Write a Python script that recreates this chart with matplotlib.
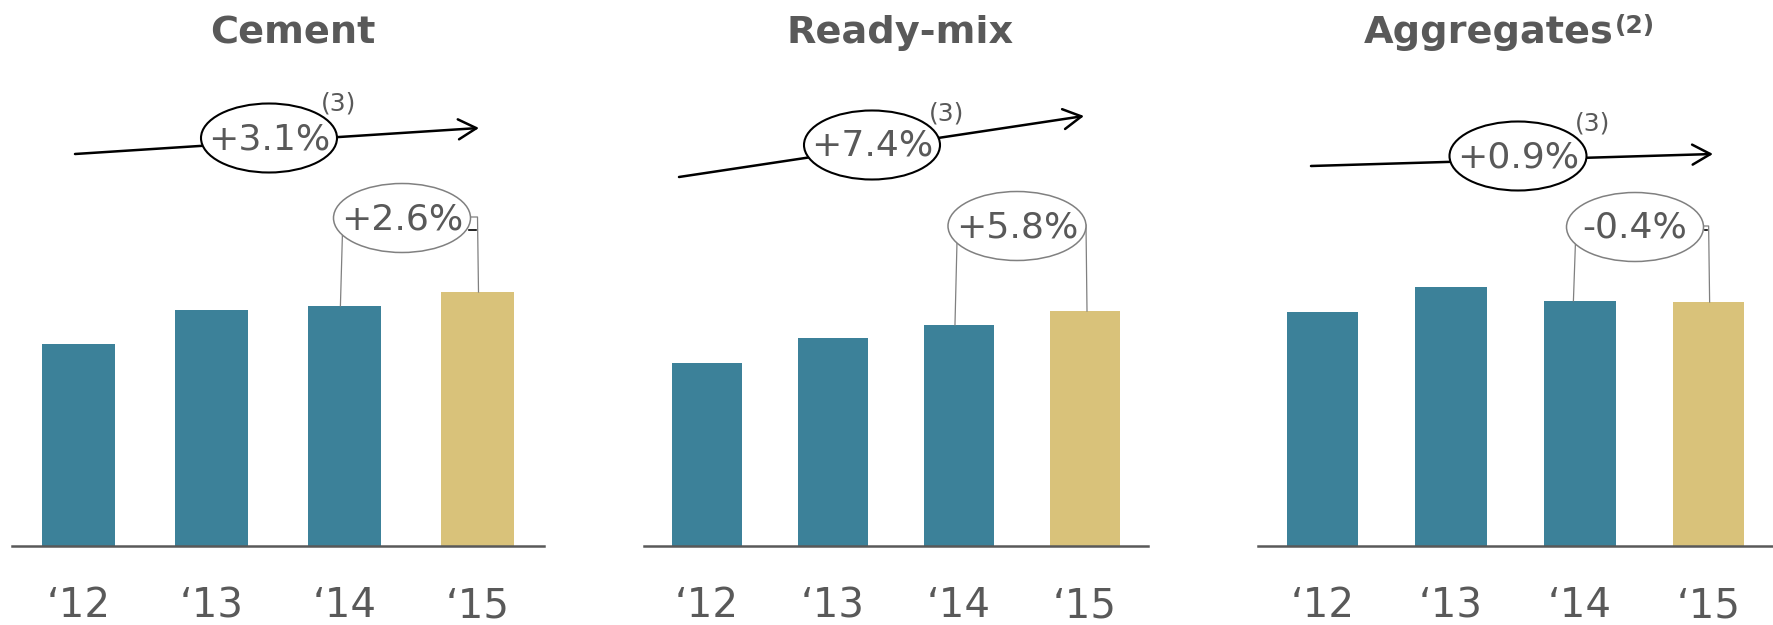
import matplotlib
matplotlib.use("Agg")
import matplotlib.pyplot as plt
from matplotlib.patches import Ellipse

# ---------------- data ----------------
categories = ["\u201812", "\u201813", "\u201814", "\u201815"]
titles = ["Cement", "Ready-mix", "Aggregates"]
title_notes = ["", "", "(2)"]
cement = [202, 236, 240, 254]
readymix = [183, 208, 221, 235]
aggregates = [234, 259, 245, 244]
cagr_labels = ["+3.1%", "+7.4%", "+0.9%"]
yoy_labels = ["+2.6%", "+5.8%", "-0.4%"]
cagr_note = "(3)"

series = [cement, readymix, aggregates]

# ---------------- style / layout (pixels) ----------------
W, H, DPI = 1773, 625, 100
TEAL = "#3C8199"
GOLD = "#D9C27A"
GREY_TXT = "#595959"
GREY_LINE = "#808080"
BASE_Y = 546
panel_x = [(12, 544), (644, 1148), (1258, 1773)]
title_x = [293, 900, 1489]
title_base_y = 43
arrow_pts = [((75, 154), (479, 128)), ((679, 177), (1084, 116)), ((1311, 166), (1713, 154))]
big_ell = [(269, 138, 136), (872, 145, 136), (1518, 156, 137)]
note_pos = [(339, 103), (947, 114), (1593, 124)]
small_ell = [(402, 218, 137), (1017, 226, 138), (1635, 227, 137)]
ELL_H = 69

fig = plt.figure(figsize=(W / DPI, H / DPI), dpi=DPI)
fig.patch.set_facecolor("white")

bar_axes = []
for i, vals in enumerate(series):
    x0, x1 = panel_x[i]
    ax = fig.add_axes([x0 / W, (H - BASE_Y) / H, (x1 - x0) / W, BASE_Y / H])
    ax.set_xlim(-0.5, len(categories) - 0.5)
    ax.set_ylim(0, BASE_Y)
    colors = [TEAL] * (len(vals) - 1) + [GOLD]
    ax.bar(range(len(vals)), vals, width=0.555, color=colors, zorder=2)
    for s in ["left", "right", "top"]:
        ax.spines[s].set_visible(False)
    ax.spines["bottom"].set_color(GREY_TXT)
    ax.spines["bottom"].set_linewidth(1.8)
    ax.set_yticks([])
    ax.set_xticks(range(len(categories)), categories, fontsize=29, color=GREY_TXT)
    ax.tick_params(axis="x", length=0, pad=29)
    ax.patch.set_alpha(0)
    bar_axes.append(ax)

# overlay axes in pixel coordinates for annotations
ov = fig.add_axes([0, 0, 1, 1])
ov.set_xlim(0, W)
ov.set_ylim(H, 0)
ov.axis("off")
ov.patch.set_alpha(0)


def to_px(ax, x, y):
    disp = ax.transData.transform((x, y))
    return ov.transData.inverted().transform(disp)


for i, vals in enumerate(series):
    ax = bar_axes[i]
    # title
    t = ov.text(title_x[i], title_base_y, titles[i], ha="center", va="baseline",
                fontsize=27.5, fontweight="bold", color=GREY_TXT)
    if title_notes[i]:
        ov.annotate(title_notes[i], xy=(1, 1), xycoords=t, xytext=(1, 1),
                    textcoords="offset points", ha="left", va="top",
                    fontsize=18, fontweight="bold", color=GREY_TXT)

    # CAGR arrow + ellipse
    (sx, sy), (ex, ey) = arrow_pts[i]
    ov.annotate("", xy=(ex, ey), xytext=(sx, sy),
                arrowprops=dict(arrowstyle="->,head_length=0.65,head_width=0.36",
                                color="black", lw=1.8, shrinkA=0, shrinkB=0,
                                mutation_scale=20), zorder=3)
    cx, cy, w = big_ell[i]
    ov.add_patch(Ellipse((cx, cy), w, ELL_H, facecolor="white", edgecolor="black",
                         lw=1.5, zorder=4))
    ov.text(cx, cy + 1, cagr_labels[i], ha="center", va="center", fontsize=26,
            color=GREY_TXT, zorder=5)
    nx, ny = note_pos[i]
    ov.text(nx, ny, cagr_note, ha="center", va="center", fontsize=18,
            color=GREY_TXT, zorder=5)

    # YoY ellipse and connectors
    cx, cy, w = small_ell[i]
    a, b = w / 2, ELL_H / 2
    ov.add_patch(Ellipse((cx, cy), w, ELL_H, facecolor="white", edgecolor=GREY_LINE,
                         lw=1.1, zorder=4))
    ov.text(cx, cy + 1, yoy_labels[i], ha="center", va="center", fontsize=26,
            color=GREY_TXT, zorder=5)
    n = len(vals)
    # left connector: from ellipse bottom-left down to the '14 bar top
    _, top3 = to_px(ax, n - 2, vals[n - 2])
    lx = cx - 0.87 * a
    ly = cy + b * (1 - 0.87 ** 2) ** 0.5
    ov.plot([lx, lx - 2], [ly, top3], color=GREY_LINE, lw=0.9, zorder=3)
    # right connector: from ellipse right edge down to the '15 bar top
    bx4, top4 = to_px(ax, n - 1, vals[n - 1])
    rx = max(bx4, cx + a)
    ov.plot([cx + a, rx, rx + 1], [cy - 1, cy - 1, top4], color=GREY_LINE, lw=0.9,
            zorder=3)

# small stray marks present in the original
ov.plot([469, 476], [230, 230], color="black", lw=1.2, zorder=6)
ov.plot([1705, 1707], [230, 230], color="black", lw=1.2, zorder=6)

fig.savefig("out.png", dpi=DPI, facecolor="white")
